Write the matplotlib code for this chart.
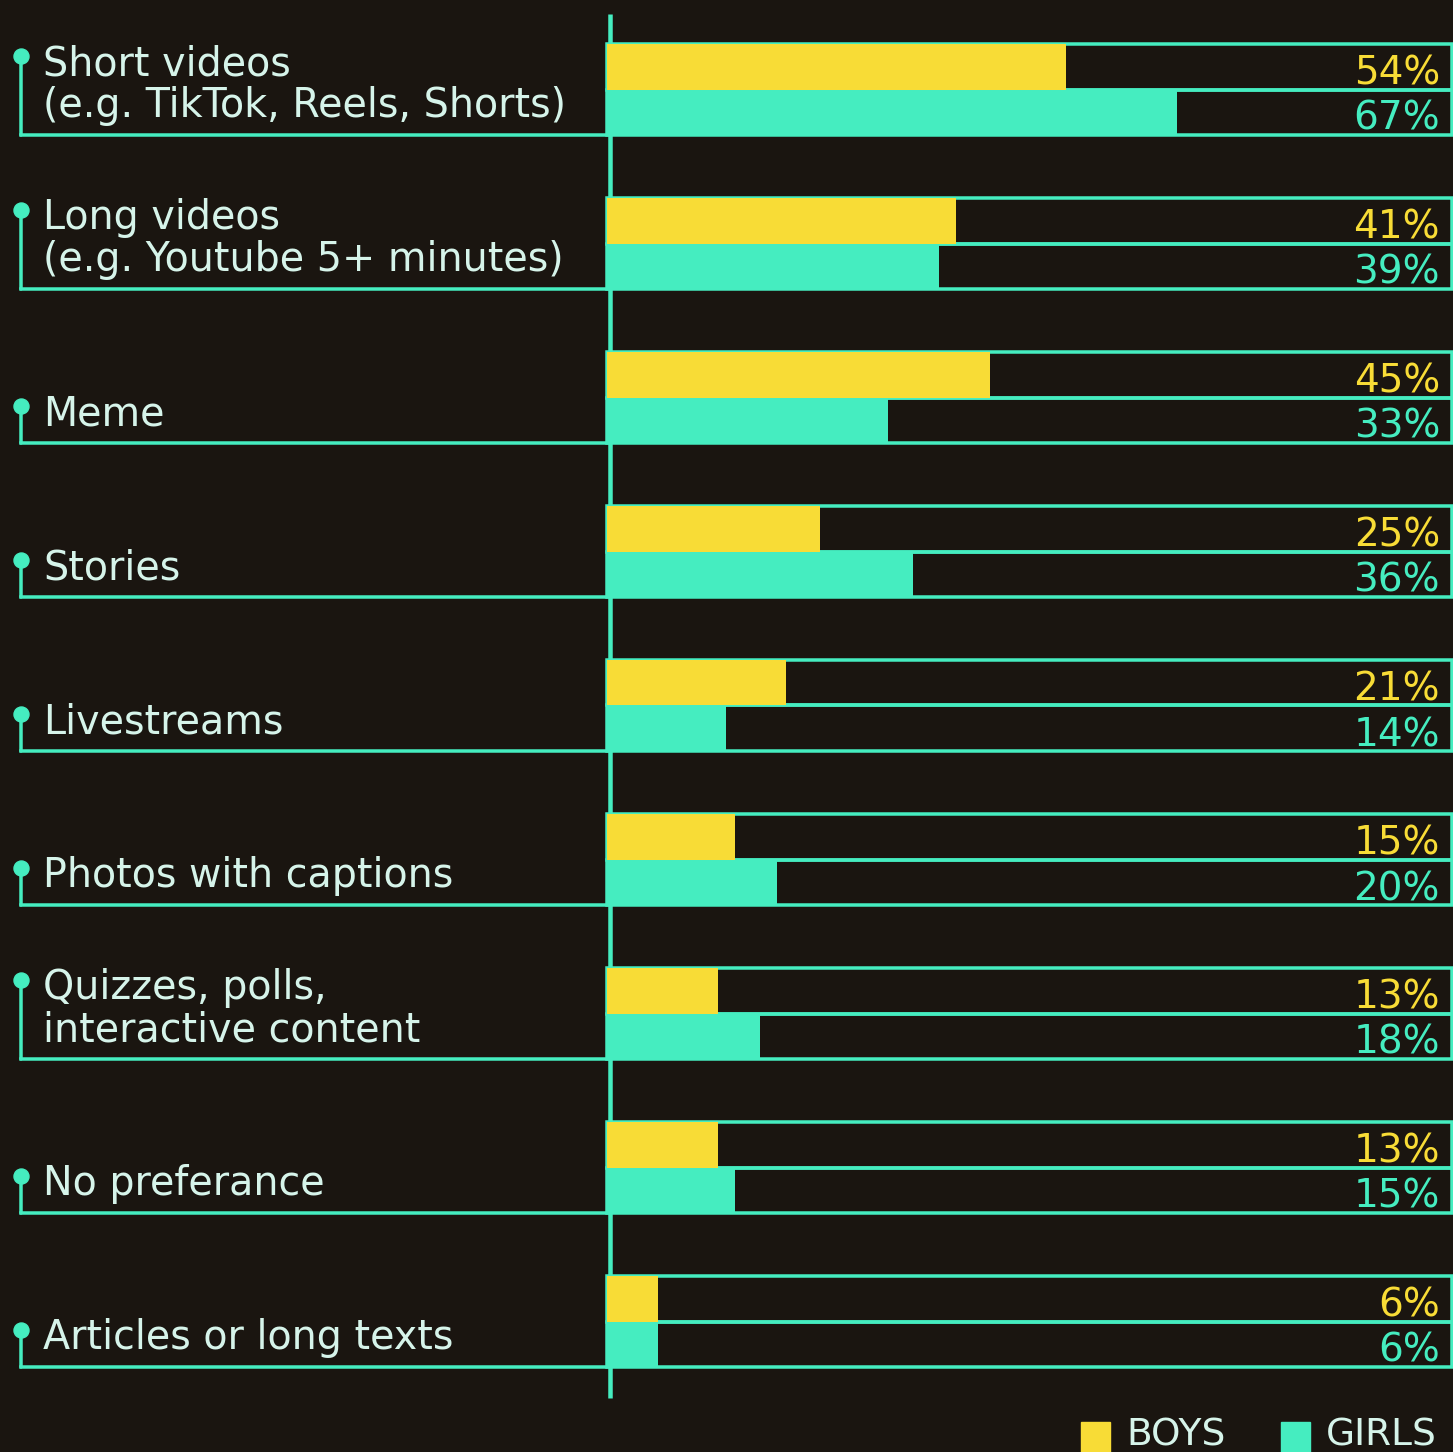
import numpy as np
import matplotlib
matplotlib.use("Agg")
import matplotlib.pyplot as plt
from matplotlib import transforms
from matplotlib.patches import Rectangle
from matplotlib.lines import Line2D

# ---- data -------------------------------------------------------------
categories = [
    "Short videos\n(e.g. TikTok, Reels, Shorts)",
    "Long videos\n(e.g. Youtube 5+ minutes)",
    "Meme",
    "Stories",
    "Livestreams",
    "Photos with captions",
    "Quizzes, polls,\ninteractive content",
    "No preferance",
    "Articles or long texts",
]
boys = [54, 41, 45, 25, 21, 15, 13, 13, 6]
girls = [67, 39, 33, 36, 14, 20, 18, 15, 6]
legend_labels = ["BOYS", "GIRLS"]

# ---- style ------------------------------------------------------------
W, H, DPI = 1453, 1452, 100
BG = "#1a1510"
YEL = "#f8dc36"
TEAL = "#45edc0"
TXT = "#d6f4ea"
plt.rcParams["font.family"] = ["DejaVu Sans"]

PITCH = 154.0            # px between groups
BAR_PX = 45.5            # px per bar
LW = 3.5 * 72 / DPI      # line width in points

fig = plt.figure(figsize=(W / DPI, H / DPI), dpi=DPI, facecolor=BG)
ax = fig.add_axes([607 / W, 0, (1452 - 607) / W, 1])
ax.set_facecolor(BG)
xmax = (1452 - 607) / 8.5
ax.set_xlim(0, xmax)
ax.set_ylim((H - 89.5) / PITCH, -89.5 / PITCH)
ax.axis("off")

n = len(categories)
y = np.arange(n)
h = BAR_PX / PITCH


def px_up(k):
    """Offset transform moving k pixels upward."""
    return transforms.ScaledTranslation(0, k / DPI, fig.dpi_scale_trans)


xfig = transforms.blended_transform_factory(fig.transFigure, ax.transData)

# vertical axis line
ax.add_line(Line2D([0.3, 0.3], [(14 - 89.5) / PITCH, (1398 - 89.5) / PITCH],
                   color=TEAL, lw=4.5 * 72 / DPI, zorder=1, clip_on=False,
                   solid_capstyle="butt"))

# outlined tracks behind each bar
track_w = xmax - 0.02
for yy in list(y - h / 2) + list(y + h / 2):
    ax.barh(yy, track_w, height=h, facecolor="none", edgecolor=TEAL,
            linewidth=LW, zorder=2, clip_on=False)

# bars
ax.barh(y - h / 2, boys, height=h, color=YEL, zorder=3, linewidth=0)
ax.barh(y + h / 2, girls, height=h, color=TEAL, zorder=3, linewidth=0)

# value labels
for i in range(n):
    ax.text(1440 / W, i, f"{boys[i]}%", transform=xfig + px_up(5),
            ha="right", va="baseline", color=YEL, fontsize=28, zorder=5)
    ax.text(1440 / W, i + h, f"{girls[i]}%", transform=xfig + px_up(5),
            ha="right", va="baseline", color=TEAL, fontsize=28, zorder=5)

# category labels with pin and leader lines
for i, label in enumerate(categories):
    bottom = i + h
    lines = label.split("\n")
    nl = len(lines)
    for j, line in enumerate(lines):
        up = 18 + 42 * (nl - 1 - j)
        ax.text(43 / W, bottom, line, transform=xfig + px_up(up),
                ha="left", va="baseline", color=TXT, fontsize=28.5, zorder=5)
    pin_up = 18 + 42 * (nl - 1) + 19
    # horizontal leader under the label
    ax.add_line(Line2D([21 / W, 608 / W], [bottom, bottom], transform=xfig,
                       color=TEAL, lw=LW, clip_on=False, zorder=2,
                       solid_capstyle="projecting"))
    # pin head
    ax.add_line(Line2D([21 / W], [bottom], transform=xfig + px_up(pin_up),
                       marker="o", markersize=15 * 72 / DPI, color=TEAL,
                       clip_on=False, zorder=3, linestyle="none"))
    # stem from the pin down to the leader
    ax.annotate("", xy=(21 / W, bottom), xycoords=xfig,
                xytext=(0, pin_up), textcoords="offset pixels",
                arrowprops=dict(arrowstyle="-", color=TEAL, lw=LW,
                                shrinkA=0, shrinkB=0), zorder=2)

# legend, anchored at the bottom right
for k, (lab, col) in enumerate(zip(legend_labels, [YEL, TEAL])):
    x0 = [1081, 1281][k]
    fig.patches.append(Rectangle((x0 / W, 0), 29 / W, 30 / H,
                                 transform=fig.transFigure, color=col,
                                 zorder=4))
    fig.text((x0 + 45) / W, 6 / H, lab, color=TXT, fontsize=27,
             ha="left", va="baseline")

fig.savefig("out.png", dpi=DPI, facecolor=BG)
